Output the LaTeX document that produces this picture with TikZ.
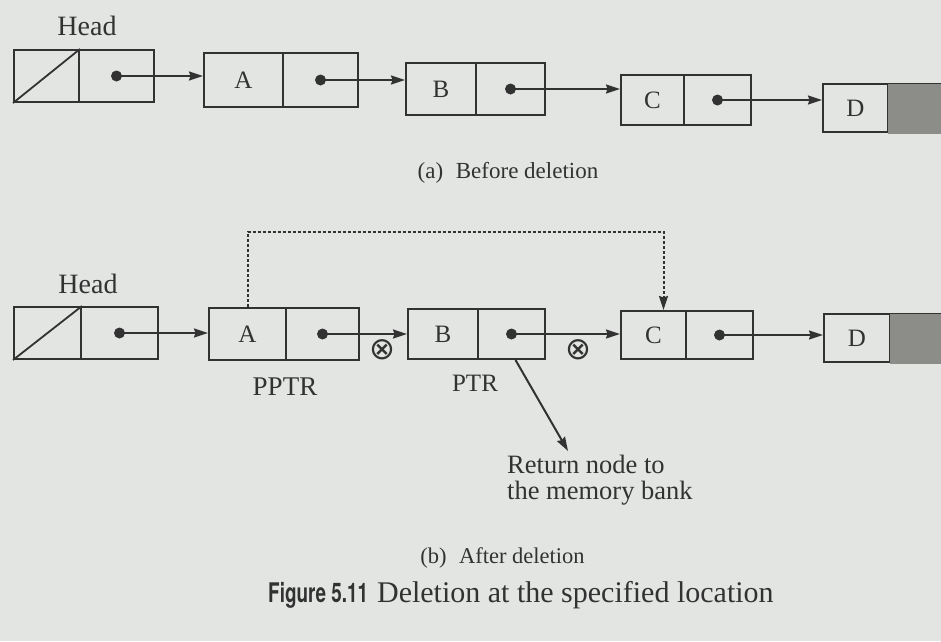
\documentclass[tikz,border=0pt]{standalone}
\usepackage{fontspec}
\usepackage{graphicx}
\setmainfont{Liberation Serif}
\newfontfamily\figsans{TeX Gyre Heros}
\newfontfamily\symfont{DejaVu Sans}
\usetikzlibrary{arrows.meta}
\definecolor{paper}{RGB}{226,229,226}
\definecolor{ink}{RGB}{50,50,50}
\definecolor{dgrey}{RGB}{140,141,137}

\tikzset{
  cell/.style={draw=ink, line width=2pt, inner sep=0pt, anchor=west, text=ink,
    font=\fontsize{25}{28}\selectfont},
  ptrdot/.style={circle, fill=ink, inner sep=0pt, minimum size=11pt},
  link/.style={draw=ink, line width=2pt, -{Stealth[length=14pt,width=9pt,inset=1.5pt]}},
  dotlink/.style={draw=ink, line width=2pt, dash pattern=on 3pt off 2pt,
    -{Stealth[length=14pt,width=9pt,inset=1.5pt]}},
  lbl/.style={inner sep=0pt, text=ink, font=\fontsize{25}{28}\selectfont},
}

% name, x-left, x-divider, x-right, y-centre, height, label
\newcommand\mklistnode[7]{%
  \node[cell, minimum width=#3pt-#2pt, minimum height=#6pt] (#1L) at (#2,#5) {#7};
  \node[cell, minimum width=#4pt-#3pt, minimum height=#6pt] (#1R) at (#3,#5) {};
}

\begin{document}
\begin{tikzpicture}[x=1pt,y=-1pt]
  \useasboundingbox (0,0) rectangle (941,641);
  \clip (0,0) rectangle (941,641);
  \fill[paper] (0,0) rectangle (941,641);

  % ---------- (a) before deletion ----------
  \node[lbl, font=\fontsize{28}{30}\selectfont] (aHead) at (87,26) {Head};
  \mklistnode{aH}{13}{78}{153}{76}{52}{}
  \draw[ink, line width=1.8pt] (aHL.south west) -- (aHL.north east);
  \mklistnode{aA}{203}{282}{357}{80}{54}{A}
  \mklistnode{aB}{405}{475}{544}{89}{52}{B}
  \mklistnode{aC}{620}{683}{750}{100}{50}{C}
  \mklistnode{aD}{822}{887}{960}{108}{48}{D}
  \fill[dgrey] ([shift={(1pt,-1pt)}]aDR.south west) rectangle ([shift={(0pt,-1pt)}]aDR.north east);

  \node[ptrdot] (aHd) at (aHR.center) {};
  \node[ptrdot] (aAd) at (aAR.center) {};
  \node[ptrdot] (aBd) at (aBR.center) {};
  \node[ptrdot] (aCd) at (aCR.center) {};
  \draw[link] (aHd.center) -- (aHd.center -| aAL.west);
  \draw[link] (aAd.center) -- (aAd.center -| aBL.west);
  \draw[link] (aBd.center) -- (aBd.center -| aCL.west);
  \draw[link] (aCd.center) -- (aCd.center -| aDL.west);

  \node[lbl, font=\fontsize{23}{26}\selectfont] (capa) at (508,173) {(a)\hspace{0.55em}Before deletion};

  % ---------- (b) after deletion ----------
  \node[lbl, font=\fontsize{28}{30}\selectfont] (bHead) at (88,284) {Head};
  \mklistnode{bH}{13}{80}{157}{333}{52}{}
  \draw[ink, line width=1.8pt] (bHL.south west) -- (bHL.north east);
  \mklistnode{bA}{208}{285}{358}{334}{52}{A}
  \mklistnode{bB}{407}{477}{544}{334}{50}{B}
  \mklistnode{bC}{620}{685}{752}{335}{48}{C}
  \mklistnode{bD}{823}{889}{960}{338}{48}{D}
  \fill[dgrey] ([shift={(1pt,-1pt)}]bDR.south west) rectangle ([shift={(0pt,-1pt)}]bDR.north east);

  \node[ptrdot] (bHd) at (bHR.center) {};
  \node[ptrdot] (bAd) at (bAR.center) {};
  \node[ptrdot] (bBd) at (bBR.center) {};
  \node[ptrdot] (bCd) at (bCR.center) {};
  \draw[link] (bHd.center) -- (bHd.center -| bAL.west);
  \draw[link] (bAd.center) -- (bAd.center -| bBL.west);
  \draw[link] (bBd.center) -- (bBd.center -| bCL.west);
  \draw[link] (bCd.center) -- (bCd.center -| bDL.west);

  \node[lbl, font=\fontsize{31}{32}\symfont] (cross1) at (382,350) {⊗};
  \node[lbl, font=\fontsize{31}{32}\symfont] (cross2) at (578,350) {⊗};

  \draw[dotlink] (bAL.north) -- ++(0,-75) -| ([xshift=10pt]bCL.north);

  \node[lbl, font=\fontsize{27}{30}\selectfont] (pptr) at (285,387) {PPTR};
  \node[lbl, font=\fontsize{25}{28}\selectfont] (ptr) at (475,383) {PTR};

  \node[lbl, align=left, anchor=north west, font=\fontsize{26.5}{26}\selectfont] (ret) at (507,455)
    {Return node to\\the memory bank};
  \draw[link] ([xshift=4pt]bBR.south) -- ([xshift=61pt,yshift=4pt]ret.north west);

  \node[lbl, font=\fontsize{22.5}{26}\selectfont] (capb) at (502.5,558) {(b)\hspace{0.55em}After deletion};

  % ---------- figure caption ----------
  \node[lbl, anchor=west, font=\fontsize{30}{32}\selectfont] (figcap) at (268,595)
    {\scalebox{0.7}[1]{\fontsize{27}{30}\figsans\bfseries Figure 5.11}\hspace{9pt}Deletion at the specified location};
\end{tikzpicture}
\end{document}
